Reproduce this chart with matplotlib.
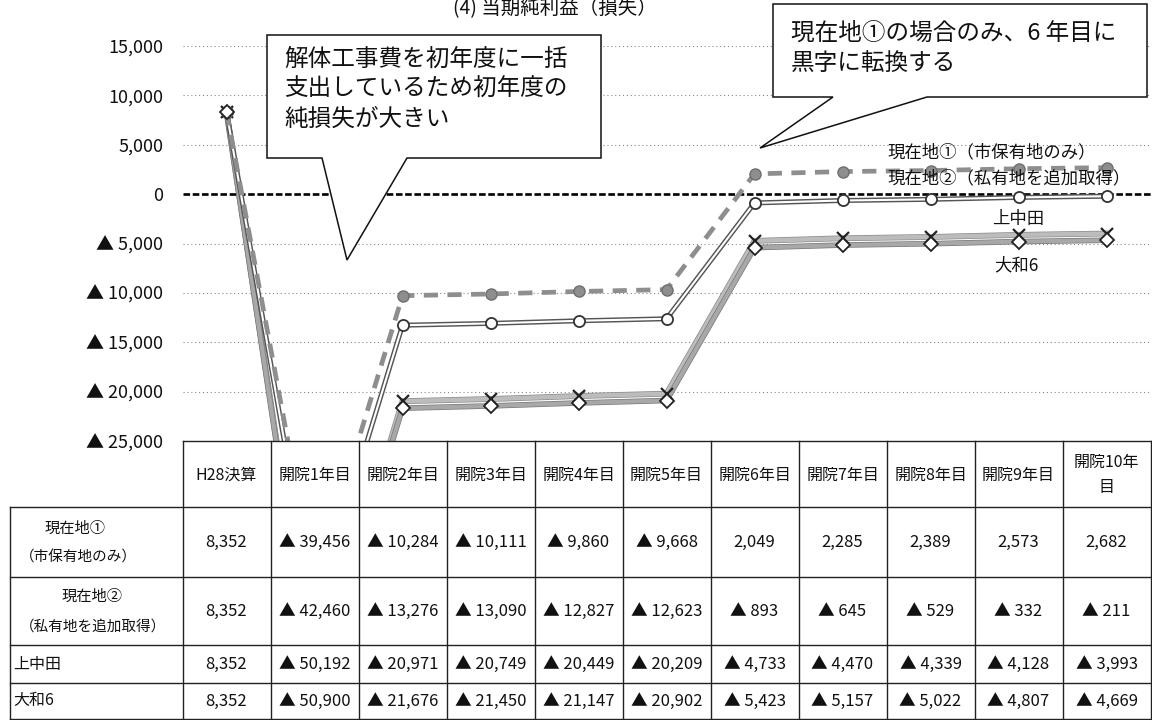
import matplotlib
matplotlib.use("Agg")
import matplotlib.pyplot as plt
import matplotlib.patheffects as pe
from matplotlib.patches import Polygon
from matplotlib.ticker import FuncFormatter

plt.rcParams['font.family'] = ['Noto Sans CJK JP', 'DejaVu Sans']

# ---------------- data ----------------
categories = ['H28決算', '開院1年目', '開院2年目', '開院3年目', '開院4年目', '開院5年目',
              '開院6年目', '開院7年目', '開院8年目', '開院9年目', '開院10年\n目']
genzai1 = [8352, -39456, -10284, -10111, -9860, -9668, 2049, 2285, 2389, 2573, 2682]
genzai2 = [8352, -42460, -13276, -13090, -12827, -12623, -893, -645, -529, -332, -211]
kaminakata = [8352, -50192, -20971, -20749, -20449, -20209, -4733, -4470, -4339, -4128, -3993]
yamato6 = [8352, -50900, -21676, -21450, -21147, -20902, -5423, -5157, -5022, -4807, -4669]

series_names = ['現在地①（市保有地のみ）', '現在地②（私有地を追加取得）', '上中田', '大和6']
row_labels = [['現在地①', '（市保有地のみ）'], ['現在地②', '（私有地を追加取得）'], ['上中田'], ['大和6']]
y_ticks = [-25000, -20000, -15000, -10000, -5000, 0, 5000, 10000, 15000]

title = '(4) 当期純利益（損失）'
note1 = ['解体工事費を初年度に一括', '支出しているため初年度の', '純損失が大きい']
note2 = ['現在地①の場合のみ、6 年目に', '黒字に転換する']

# ---------------- layout ----------------
W, H = 1152, 720
fig = plt.figure(figsize=(W / 100, H / 100), dpi=100)
fig.patch.set_facecolor('white')

L, R = 182.5, 1150.5
TOP, BOT = 46, 441
ax = fig.add_axes([L / W, 1 - BOT / H, (R - L) / W, (BOT - TOP) / H])
ax.set_facecolor('none')
x = list(range(len(categories)))
ax.set_xlim(-0.5, len(categories) - 0.5)
ax.set_ylim(y_ticks[0], y_ticks[-1])
for s in ax.spines.values():
    s.set_visible(False)
ax.set_xticks([])
ax.set_yticks(y_ticks)


def fmt(v, pos=None):
    v = int(round(v))
    if v < 0:
        return '▲ {:,}'.format(-v)
    return '{:,}'.format(v)


ax.yaxis.set_major_formatter(FuncFormatter(fmt))
ax.tick_params(axis='y', length=0, pad=14, labelsize=13, labelcolor='#111111')

for yv in y_ticks[1:]:
    if yv == 0:
        ax.axhline(yv, color='black', lw=1.9, ls=(0, (2.5, 1)), zorder=2)
    else:
        ax.axhline(yv, color='#888888', lw=0.8, ls=(0, (1, 2.5)), zorder=1)

# series
ax.plot(x, kaminakata, color='#bcbcbc', lw=3.2, zorder=3,
        path_effects=[pe.Stroke(linewidth=4.2, foreground='#8a8a8a'), pe.Normal()])
ax.plot(x, yamato6, color='#a8a8a8', lw=3.0, zorder=3.1,
        path_effects=[pe.Stroke(linewidth=4.0, foreground='#777777'), pe.Normal()])
ax.plot(x, genzai2, color='white', lw=1.5, zorder=3.2,
        path_effects=[pe.Stroke(linewidth=3.6, foreground='#555555'), pe.Normal()])
ax.plot(x, genzai1, color='#8e8e8e', lw=3.4, ls=(0, (3, 2)), zorder=3.3)

ax.plot(x, kaminakata, ls='none', marker='x', ms=8, mew=1.6, color='#222222', zorder=5)
ax.plot(x, yamato6, ls='none', marker='D', ms=7, mfc='white', mec='#222222', mew=1.3, zorder=6)
ax.plot(x, genzai2, ls='none', marker='o', ms=8, mfc='white', mec='#333333', mew=1.3, zorder=5.5)
ax.plot(x, genzai1, ls='none', marker='o', ms=8, mfc='#8e8e8e', mec='#6e6e6e', mew=1.0, zorder=5.6)

# ---------------- overlay (callouts, labels, table) ----------------
ov = fig.add_axes([0, 0, 1, 1])
ov.set_xlim(0, W)
ov.set_ylim(H, 0)
ov.axis('off')

ov.text(555, 9, title, ha='center', va='center', fontsize=14, color='#111111')

box1 = [(267, 35), (601, 35), (601, 158), (407, 158), (347, 260), (322, 158), (267, 158)]
ov.add_patch(Polygon(box1, closed=True, facecolor='white', edgecolor='#111111', lw=1.1, zorder=10))
for i, line in enumerate(note1):
    ov.text(284, 59 + i * 30, line, ha='left', va='center', fontsize=17, color='#111111', zorder=11)

box2 = [(773, 4), (1147, 4), (1147, 97), (927, 97), (760, 148), (833, 97), (773, 97)]
ov.add_patch(Polygon(box2, closed=True, facecolor='white', edgecolor='#111111', lw=1.1, zorder=10))
for i, line in enumerate(note2):
    ov.text(791, 33 + i * 30, line, ha='left', va='center', fontsize=17, color='#111111', zorder=11)

# series labels
ov.text(887, 152, series_names[0], ha='left', va='center', fontsize=12.5, color='#111111', zorder=9)
ov.text(887, 178, series_names[1], ha='left', va='center', fontsize=12.5, color='#111111', zorder=9)
ov.text(1018, 219, series_names[2], ha='center', va='center', fontsize=12.5, color='#111111', zorder=9)
ov.text(1016, 265, series_names[3], ha='center', va='center', fontsize=12.5, color='#111111', zorder=9)

# table
n = len(categories)
colw = (R - L) / n
xs = [L + i * colw for i in range(n + 1)]
row_y = [441, 507, 577, 645, 683, 719]
TL = 10
lc = '#222222'
lw = 1.0
# horizontal lines
ov.plot([L, R], [row_y[0], row_y[0]], color=lc, lw=lw)
for yv in row_y[1:]:
    ov.plot([TL, R], [yv, yv], color=lc, lw=lw)
# vertical lines
for xv in xs:
    ov.plot([xv, xv], [row_y[0], row_y[-1]], color=lc, lw=lw)
ov.plot([TL, TL], [row_y[1], row_y[-1]], color=lc, lw=lw)

# header
for i, c in enumerate(categories):
    ov.text(xs[i] + colw / 2, (row_y[0] + row_y[1]) / 2 + 1, c, ha='center', va='center',
            fontsize=11.5, color='#111111', linespacing=1.6)

data_rows = [genzai1, genzai2, kaminakata, yamato6]
for r, vals in enumerate(data_rows):
    yc = (row_y[r + 1] + row_y[r + 2]) / 2
    for i, v in enumerate(vals):
        ov.text(xs[i] + colw / 2, yc, fmt(v), ha='center', va='center', fontsize=12, color='#111111')

# row labels
ov.text(45, 528, row_labels[0][0], ha='left', va='center', fontsize=11, color='#111111')
ov.text(20, 558, row_labels[0][1], ha='left', va='center', fontsize=10.5, color='#111111')
ov.text(62, 596, row_labels[1][0], ha='left', va='center', fontsize=11, color='#111111')
ov.text(20, 627, row_labels[1][1], ha='left', va='center', fontsize=10.5, color='#111111')
ov.text(13, 664, row_labels[2][0], ha='left', va='center', fontsize=11.5, color='#111111')
ov.text(13, 701, row_labels[3][0], ha='left', va='center', fontsize=11.5, color='#111111')

fig.savefig('out.png', dpi=100, facecolor='white')
